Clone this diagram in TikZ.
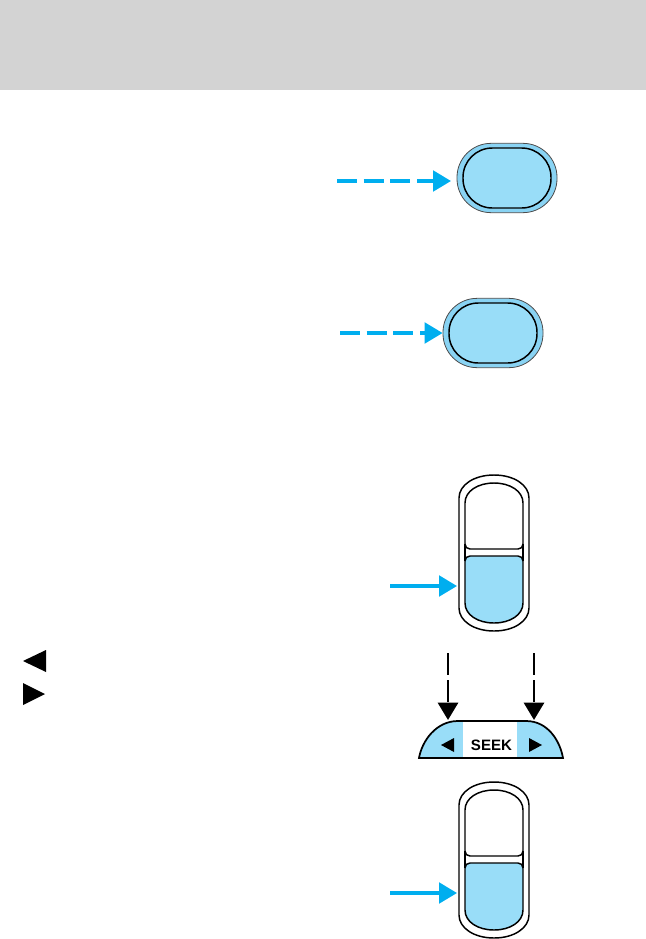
\documentclass[tikz,border=0pt]{standalone}
\usepackage{fontspec}
\setsansfont{Liberation Sans}
\usetikzlibrary{arrows.meta}
\definecolor{hdrgray}{RGB}{211,211,211}
\definecolor{arrowblue}{RGB}{0,174,239}
\definecolor{btnrim}{RGB}{137,211,243}
\definecolor{btnface}{RGB}{153,221,248}

\begin{document}
\begin{tikzpicture}[
    x=0.75pt, y=-0.75pt,
    bluearrow/.style={draw=arrowblue, line width=2.4pt, -{Triangle[length=13.5pt, width=15.5pt]}},
    blackarrow/.style={draw=black, line width=2.2pt, -{Triangle[length=13pt, width=15pt]}},
    dashrun/.style={dash pattern=on 15pt off 5pt},
    rim/.style={draw=black!70, fill=btnrim, line width=0.6pt, rounded corners=25.5pt, minimum width=75pt, minimum height=52pt, inner sep=0pt},
    face/.style={draw=black, fill=btnface, line width=1.1pt, rounded corners=22pt, minimum width=66pt, minimum height=45pt, inner sep=0pt},
    swline/.style={draw=black, line width=1.1pt},
    seektext/.style={font=\sffamily\bfseries\fontsize{11.3}{12}\selectfont, inner sep=0pt},
  ]

  \useasboundingbox (0,0) rectangle (646,939);

  % header band
  \fill[hdrgray] (0,0) rectangle (646,90);

  % the two round buttons
  \node[rim] (btnA) at (507,178) {};
  \node[face] (btnAface) at (btnA.center) {};
  \coordinate (startA) at (337,181);
  \draw[bluearrow, dashrun] (startA) -- (451,181);

  \node[rim] (btnB) at (493,333) {};
  \node[face] (btnBface) at (btnB.center) {};
  \coordinate (startB) at (340,333);
  \draw[bluearrow, dashrun] (startB) -- (btnB.west);

  % the two rocker switches
  \foreach \dy/\nm in {0/C, 307/D} {
    \begin{scope}[shift={(0,\dy)}]
      \draw[swline, fill=white] (459,498) .. controls (459,485) and (474,475) .. (494,475)
        .. controls (514,475) and (529,485) .. (529,498) -- (529,608)
        .. controls (529,621) and (514,631) .. (494,631)
        .. controls (474,631) and (459,621) .. (459,608) -- cycle;
      \draw[swline, fill=white] (465,544) -- (465,503)
        .. controls (465,491) and (478,483) .. (494,483)
        .. controls (510,483) and (523,491) .. (523,503) -- (523,544)
        .. controls (523,547) and (521,549) .. (518,549) -- (470,549)
        .. controls (467,549) and (465,547) .. (465,544) -- cycle;
      \draw[swline, fill=btnface] (465,561) .. controls (465,558) and (467,556) .. (470,556)
        -- (518,556) .. controls (521,556) and (523,558) .. (523,561) -- (523,603)
        .. controls (523,615) and (510,623) .. (494,623)
        .. controls (478,623) and (465,615) .. (465,603) -- cycle;
      \draw[swline] (465,544) -- (465,561);
      \draw[swline] (523,544) -- (523,561);
      \coordinate (start\nm) at (390,586);
      \coordinate (end\nm) at (457,586);
      \draw[bluearrow] (start\nm) -- (end\nm);
    \end{scope}
  }

  % seek bar
  \begin{scope}
    \clip (419,758) .. controls (422,741) and (436,721) .. (458,721) -- (526,721)
      .. controls (548,721) and (560,741) .. (563,758) -- cycle;
    \fill[btnface] (415,718) rectangle (463,760);
    \fill[btnface] (517,718) rectangle (567,760);
  \end{scope}
  \draw[swline, line width=1.3pt] (419,758) .. controls (422,741) and (436,721) .. (458,721) -- (526,721)
    .. controls (548,721) and (560,741) .. (563,758) -- cycle;
  \fill (441,745) -- (454,738) -- (454,752) -- cycle;
  \fill (542,745) -- (529,738) -- (529,752) -- cycle;
  \node[seektext] (seek) at (491.5,745) {SEEK};
  \coordinate (seekL) at (448,720);
  \coordinate (seekR) at (534,720);
  \coordinate (topL) at (448,653);
  \coordinate (topR) at (534,653);
  \draw[blackarrow, dash pattern=on 16.5pt off 4pt] (topL) -- (seekL);
  \draw[blackarrow, dash pattern=on 16.5pt off 4pt] (topR) -- (seekR);

  % the two marks in the margin
  \fill (23,661) -- (46,650) -- (46,672) -- cycle;
  \fill (23,683) -- (45,694) -- (23,705) -- cycle;

\end{tikzpicture}
\end{document}
